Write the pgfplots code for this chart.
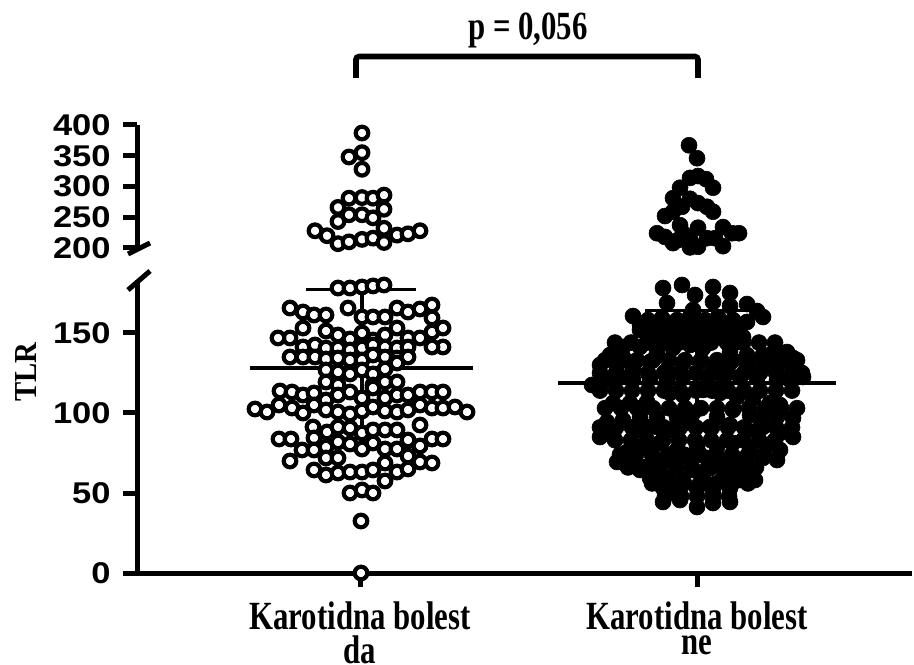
\documentclass[border=0pt]{standalone}
\usepackage{fontspec}
\setmainfont{Liberation Serif}
\setsansfont{Liberation Sans}
\usepackage{graphicx}
\usepackage{pgfplots}
\pgfplotsset{compat=1.18}
\newcommand\tl[1]{\scalebox{1.15}[1]{\sffamily\bfseries #1}}
\newcommand\cl[1]{\scalebox{0.77}[1]{\shortstack{#1}}}
\begin{document}
\begin{tikzpicture}
\path[use as bounding box] (0,0) rectangle (457pt,332pt);
\pgfplotsset{
  common/.style={scale only axis, width=387.5pt, xmin=137, xmax=912,
    enlargelimits=false, clip=false,
    axis line style={line width=2.5pt, black},
    tick style={line width=2.5pt, black},
    tick align=outside, major tick length=7pt,
    yticklabel style={font=\fontsize{15}{15}\selectfont, inner sep=0pt, xshift=-6pt}},
  g1/.style={only marks, mark=*, mark size=3.15pt, mark options={fill=white, draw=black, line width=2.1pt}},
  g2/.style={only marks, mark=*, mark size=4pt, mark options={fill=black, draw=black, line width=0.3pt}},
}
% ---------- upper (broken) axis ----------
\begin{axis}[common, at={(68.5pt,208pt)}, anchor=south west, height=61.5pt,
  ymin=200, ymax=400, hide x axis, axis y line*=left, xtick=\empty,
  ytick={200,250,300,350,400},
  yticklabels={\tl{200},\tl{250},\tl{300},\tl{350},\tl{400}}]
\addplot[g1] table {
362 387
349 348
362 355
362 328
349 281
362 282
373 281
384 286
338 266
349 254
362 254
373 249
384 263
338 243
315 228
327 220
338 207
349 210
362 214
373 216
384 232
384 209
397 221
408 223
420 228
};
\addplot[g2] table {
689 367
697 346
690 314
698 317
706 312
713 298
680 298
673 281
690 280
698 273
707 267
713 259
682 267
665 252
673 259
680 237
657 224
665 218
673 208
683 224
690 201
698 233
698 202
707 216
715 216
723 234
723 203
732 224
739 224
690 216
678 213
};
\end{axis}
% ---------- lower axis ----------
\begin{axis}[common, at={(68.5pt,45.5pt)}, anchor=south west, height=146.4pt,
  ymin=0, ymax=183, axis x line*=bottom, axis y line*=left,
  xtick={360,697},
  xticklabels={\cl{Karotidna bolest\\da},\cl{Karotidna bolest\\ne}},
  xticklabel style={font=\fontsize{20}{15}\selectfont\bfseries, inner sep=0pt, anchor=north, yshift=-7pt},
  ytick={0,50,100,150},
  yticklabels={\tl{0},\tl{50},\tl{100},\tl{150}}]
\addplot[g1] table {
338 178.1
350 178.1
362 178.75
373 179.4
384 180
290 165.6
303 163.1
314 161.25
326 161.25
348 165.6
362 160
373 160
385 160
397 165.6
408 163.1
420 165
432 167.5
432 159.4
303 153.1
290 146.9
278 146.9
326 151.25
338 148.75
350 146.25
362 150
373 145.6
385 148.75
397 153.1
408 146.9
420 146.9
432 150.6
443 153.1
443 141.25
432 141.25
303 141.25
315 142.5
326 140.6
338 140.6
350 139.4
362 140.6
373 142.5
385 141.25
397 140.6
408 141.25
290 135
303 135
315 135
326 133.75
338 134.4
350 133.1
362 133.1
373 136.25
385 135
397 134.4
408 135
326 126.9
338 125.6
350 124.4
362 126.9
373 124.4
385 127.5
397 131.25
326 119.4
338 117.5
373 117.5
385 119.4
397 119.4
280 113.75
292 113.1
303 111.25
314 112.5
326 108.1
338 111.25
350 113.1
362 109.4
373 115.6
385 109.4
397 111.25
408 111.25
420 113.1
432 113.1
443 113.1
255 102.5
267 100.6
279 105
292 103.1
303 100
314 105
326 101.9
338 100.6
350 99.4
362 101.25
373 103.75
385 101.25
397 100.6
408 101.9
420 105
432 103.1
443 103.1
455 103.75
467 100.6
313 91.25
327 88.1
338 91.25
350 90.6
362 87.5
373 89.4
385 89.4
397 89.4
420 92.5
279 83.75
291 83.75
314 84.4
326 78.75
338 81.9
350 80.6
362 77.5
373 81.25
385 77.5
397 77.5
408 83.1
420 79.4
432 83.75
443 83.75
302 76.9
314 76.9
290 70
326 71.9
338 71.9
385 68.75
408 73.1
420 69.4
432 68.75
314 64.4
326 61.25
338 62.5
350 63.1
362 63.1
373 64.4
397 63.1
408 65
385 57.5
350 50
362 51.9
373 50
361 32.5
361 0
};
\addplot[g2] table {
663 178.1
682 180
695 173.75
713 178.75
730 175
667 168.75
693 164.4
713 169.4
730 166.9
747 168.1
757 163.75
763 160
633 160.6
648 158.1
662 159.4
677 158.1
690 160
705 158.1
718 160
733 158.1
747 156.9
640 151.9
653 151.9
667 150
680 153.1
693 151.9
707 153.1
720 150.6
733 150
743 147.5
650 146.9
670 145.6
687 145.6
703 145.6
723 146.9
738 144.4
623 141.25
640 141.25
610 136.25
623 135
657 137.5
673 140.6
690 142.5
703 140.6
730 138.1
747 136.25
763 136.25
773 137.5
787 138.1
793 134.4
600 130
617 130
633 128.1
650 131.9
667 126.9
683 131.25
700 131.9
715 128.75
730 131.25
747 128.75
763 128.75
777 128.75
793 128.1
802 125
592 117.5
607 120.6
620 122.5
633 120.6
650 121.9
667 120.6
683 122.5
707 122.5
723 122.5
740 122.5
757 121.9
777 120.6
790 120.6
803 122.5
613 106.25
630 106.25
647 106.9
670 112.5
683 111.25
703 114.4
720 112.5
737 110
753 109.4
770 106.25
780 105
607 94.4
623 95.6
640 97.5
657 96.9
677 97.5
693 100
717 97.5
733 101.9
750 98.75
763 97.5
777 97.5
793 96.9
600 85
613 86.25
640 89.4
657 91.25
673 89.4
690 93.75
710 91.25
730 92.5
747 89.4
763 91.25
793 85
780 87.5
627 75.6
643 78.75
660 81.25
677 76.9
697 78.75
717 78.75
733 81.25
750 78.1
767 80
780 76.9
617 69.4
633 70.6
653 71.9
670 70.6
687 72.5
707 71.9
723 69.4
743 70.6
763 71.9
777 70.6
640 64.4
657 63.1
677 64.4
693 64.4
710 65.6
730 64.4
747 61.25
650 59.4
667 59.4
683 58.1
703 59.4
723 59.4
740 58.1
755 58.1
663 53.1
677 51.9
697 53.1
713 51.9
730 53.1
663 44.4
680 45.6
697 41.25
713 43.75
730 44.4
640 155
656 155
672 155
688 155
704 155
720 155
736 155
615 144
631 144
647 144
663 144
679 144
695 144
711 144
727 144
743 144
759 144
775 144
605 133
621 133
637 133
653 133
669 133
685 133
701 133
717 133
733 133
749 133
765 133
781 133
797 133
600 125
616 125
632 125
648 125
664 125
680 125
696 125
712 125
728 125
744 125
760 125
776 125
792 125
600 114
616 114
632 114
648 114
664 114
680 114
696 114
712 114
728 114
744 114
760 114
776 114
792 114
605 103
621 103
637 103
653 103
669 103
685 103
701 103
717 103
733 103
749 103
765 103
781 103
797 103
600 91
616 91
632 91
648 91
664 91
680 91
696 91
712 91
728 91
744 91
760 91
776 91
792 91
615 83
631 83
647 83
663 83
679 83
695 83
711 83
727 83
743 83
759 83
775 83
620 74
636 74
652 74
668 74
684 74
700 74
716 74
732 74
748 74
764 74
628 66
644 66
660 66
676 66
692 66
708 66
724 66
740 66
756 66
652 56
668 56
684 56
700 56
716 56
732 56
748 56
665 48
681 48
697 48
713 48
729 48
};
% mean and SD
\addplot[line width=2pt] coordinates {(250,128) (473,128)};
\addplot[line width=1.6pt] coordinates {(362,79) (362,177)};
\addplot[line width=1.6pt] coordinates {(306,177) (416,177)};
\addplot[line width=1.6pt] coordinates {(306,79) (416,79)};
\addplot[line width=2pt] coordinates {(558,119) (836,119)};
\addplot[line width=1.6pt] coordinates {(697,74) (697,164)};
\addplot[line width=1.6pt] coordinates {(645,164) (749,164)};
\addplot[line width=1.6pt] coordinates {(645,74) (749,74)};
\end{axis}
% axis break marks
\draw[line width=2.5pt] (64pt,205pt) -- (75pt,210.5pt);
\draw[line width=2.5pt] (64pt,187pt) -- (75pt,196.5pt);
% y label
\node[rotate=90, font=\fontsize{16}{16}\selectfont\bfseries] at (13pt,146pt) {\scalebox{0.9}[1]{TLR}};
% significance bracket
\draw[line width=2.8pt, rounded corners=1.5pt] (178pt,293pt) -- (178pt,303.75pt) -- (349pt,303.75pt) -- (349pt,293pt);
\node[anchor=base, font=\fontsize{20}{20}\selectfont\bfseries] at (264pt,312pt) {\scalebox{0.77}[1]{p = 0,056}};
\end{tikzpicture}
\end{document}
